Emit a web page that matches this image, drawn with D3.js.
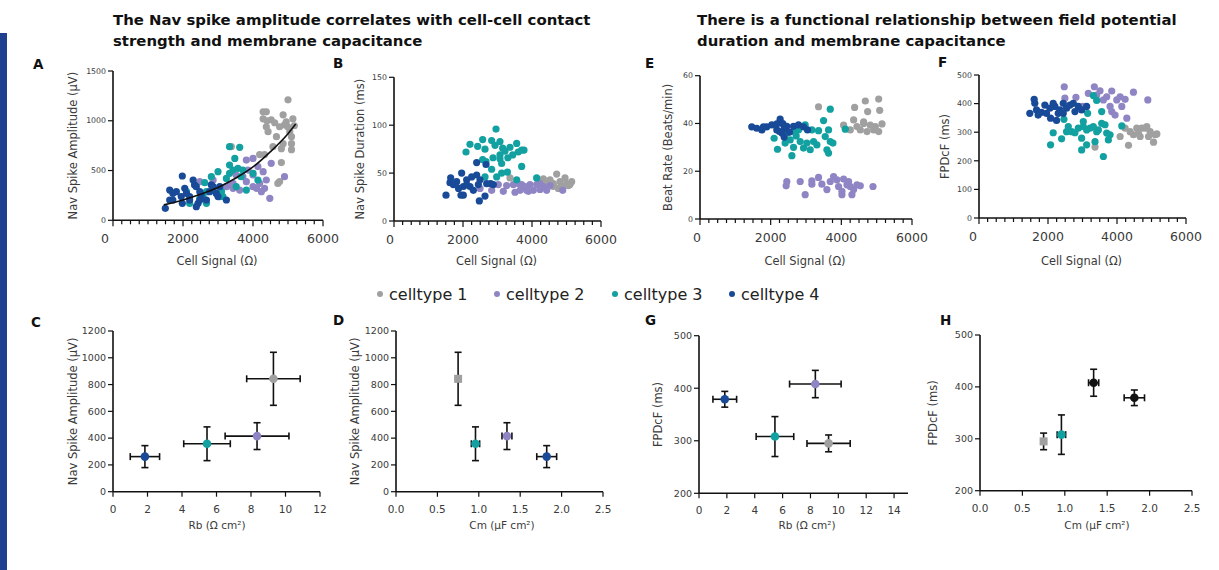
<!DOCTYPE html>
<html>
<head>
<meta charset="utf-8">
<script src="https://cdn.jsdelivr.net/npm/d3@7"></script>
<style>
  body { margin: 0; background: #fff; }
  svg text { font-family: "DejaVu Sans", sans-serif; fill: #3a3a3a; }
  .title { font-weight: bold; fill: #111; font-size: 14.9px; }
  .plabel { font-weight: bold; fill: #111; font-size: 13.5px; }
</style>
</head>
<body>
<svg id="fig" width="1219" height="570"></svg>
<script>
const cellTypes = ["celltype 1", "celltype 2", "celltype 3", "celltype 4"];
const colors = ["#a0a0a0", "#9085c4", "#13a0a0", "#184a98"];

// A: Nav spike amplitude (µV) vs cell signal (Ω)
const ampCt1 = [[3380,740],[4190,660],[4290,1090],[4380,1090],[4290,1020],[4520,1010],[4860,1060],[5140,1020],[4950,990],[4760,940],[4380,940],[4430,890],[4670,840],[5050,890],[4860,770],[5100,770],[5100,840],[4810,720],[5100,710],[4570,740],[4330,660],[4810,580],[4760,390],[4710,370],[5000,1210],[4900,960],[4990,940],[4620,980],[4400,1000],[5180,950]];
const ampCt2 = [[4000,622],[3810,605],[4140,540],[4520,572],[3860,505],[4290,489],[4000,455],[4380,405],[4190,371],[4000,338],[3810,388],[3710,438],[3430,371],[3240,338],[3050,321],[2860,405],[2480,388],[3620,304],[4240,288],[4330,321],[4900,438],[4480,221],[3430,321],[3000,271],[3520,455],[3330,355],[4100,321]];
const ampCt3 = [[3330,740],[3620,733],[3480,622],[3570,522],[3330,472],[2810,438],[3000,489],[2620,378],[2100,288],[2190,171],[2670,171],[3050,238],[3100,288],[2950,271],[3140,238],[3520,338],[3660,438],[3810,304],[4140,405],[3430,505],[3330,555],[2570,238],[2670,288],[2480,221],[3240,421],[3710,505],[2860,304],[4000,472]];
const ampCt4 = [[1495,120],[1620,204],[1620,304],[1710,271],[1810,288],[1950,238],[1980,445],[2100,271],[1980,171],[2190,238],[2050,321],[2330,355],[2290,405],[2380,338],[2480,288],[2430,171],[2380,137],[2670,204],[2810,355],[2950,271],[2860,338],[2760,288],[3050,338],[3000,238],[3240,204],[2480,204],[1710,204],[2190,204],[2520,254]];
const ampFit = [[1450,155],[2000,205],[2500,262],[3000,330],[3500,422],[4000,536],[4500,690],[5000,870],[5220,967]];

// B: Nav spike duration (ms) vs cell signal (Ω)
const durCt1 = [[3362,45],[4329,44],[4715,49],[4522,43],[4618,39],[4812,41],[5005,39],[5150,41],[4908,36],[4763,34],[5054,37],[4425,39],[4618,36],[4232,42],[4957,45],[5100,38]];
const durCt2 = [[2493,34],[2831,32],[3024,38],[3169,31],[3265,37],[3459,38],[3652,32],[3797,36],[3942,38],[4039,32],[4135,38],[4232,33],[4329,36],[4522,37],[4232,39],[3845,32],[4889,32],[3604,39],[3894,31],[4425,32],[3700,38],[3507,30]];
const durCt3 = [[2957,96],[2203,80],[2570,85],[2830,84],[3072,83],[2087,72],[2425,78],[2638,75],[3150,76],[3362,77],[3556,81],[3700,74],[3768,74],[3600,72],[3440,69],[3300,66],[3072,69],[2870,66],[3072,65],[3120,60],[2667,62],[2570,64],[3700,57],[2830,54],[3120,50],[3285,51],[3556,43],[2976,46],[2638,46],[4135,45],[2928,79],[3217,73]];
const durCt4 = [[2396,61],[2667,59],[1507,27],[1643,45],[1623,40],[1816,41],[1961,50],[2106,43],[2251,46],[2396,48],[2493,43],[2010,36],[2203,36],[2300,32],[2445,38],[2686,39],[2879,38],[2010,27],[1942,27],[2473,21],[2638,26],[1720,38],[2106,38],[2802,39],[1871,34]];

// E: beat rate (beats/min) vs cell signal (Ω)
const rateCt1 = [[3355,47],[4376,46.7],[4679,49.4],[5057,50.2],[4745,45],[5085,45.5],[4064,39.3],[4348,41.5],[4442,38.7],[4631,40],[4820,39.3],[4962,38.7],[5151,39.8],[4726,36.6],[4915,37.3],[4537,37.3],[4253,37.3],[5057,36.6],[4631,40.7]];
const rateCt2 = [[2457,15.7],[2438,13.9],[2836,15.7],[3166,16],[3166,14.6],[2977,10.2],[3355,17.4],[3450,14.6],[3592,12.3],[3686,15.7],[3781,17.8],[3875,16.4],[3922,13.6],[4017,11.6],[4064,16.7],[4206,15.7],[4253,13.6],[4300,10.2],[4348,12.3],[4442,14.3],[4537,13.9],[4896,13.6],[4017,10.2],[4159,14.3]];
const rateCt3 = [[3686,46],[2098,33.8],[2193,29.2],[2410,31.8],[2552,33.1],[2600,26.5],[2647,30],[2836,32.4],[2930,29.7],[3025,31.8],[3119,29],[3214,32.4],[3308,31],[3355,37],[3497,41.2],[3544,34.5],[3638,37.3],[3686,32.4],[3762,31.8],[3592,29],[3638,27.6],[2788,37.3],[2647,36.6],[2977,39.4],[3166,37.3],[2457,35.9],[2722,34.8],[4112,37.6]];
const rateCt4 = [[1465,38.6],[1607,38],[1749,37.3],[1890,38.6],[2032,39.4],[2174,39.8],[2268,41.8],[2344,39.9],[2382,37.9],[2250,36.6],[2382,34.3],[2457,38.8],[2533,36.4],[2647,38.8],[2788,39.4],[2930,38.6],[3043,37.3],[2174,37.3],[1796,38.6],[2325,35.9]];

// F: FPDcF (ms) vs cell signal (Ω)
const fpdCt1 = [[3363,248],[4090,285],[4333,254],[4380,302],[4574,314],[4671,285],[4816,314],[4961,302],[5107,291],[5059,265],[4477,291],[4719,314],[4913,285],[5155,294],[4236,314],[4622,296],[4864,320]];
const fpdCt2 = [[2471,459],[2490,419],[2810,422],[3004,390],[3168,436],[3343,459],[3508,445],[3702,424],[3847,444],[3993,413],[4090,424],[4236,415],[4477,440],[4893,413],[3847,372],[3944,360],[3799,390],[4285,349],[4139,390],[3605,413],[3411,430]];
const fpdCt3 = [[3314,428],[3411,411],[3149,366],[2462,345],[2588,320],[2539,302],[2151,298],[2074,256],[2394,277],[2685,302],[2878,314],[3023,337],[3023,320],[3120,308],[3217,314],[3314,320],[3459,308],[3556,331],[3556,372],[3653,326],[3702,297],[3799,291],[3750,273],[3363,267],[2975,279],[3120,256],[2975,238],[3605,215],[4139,322],[2781,298],[3411,302]];
const fpdCt4 = [[1473,366],[1599,415],[1618,401],[1667,378],[1812,369],[1909,395],[2054,384],[2074,349],[2200,390],[2248,341],[2296,366],[2442,401],[2539,384],[2636,395],[2781,372],[2878,390],[2975,378],[3120,390],[2345,378],[1957,366],[2733,401],[2151,401],[1715,360],[2442,366]];

// C, D, G, H: group means with errors (order: celltype 1..4)
const rbMean = [9.3, 8.35, 5.45, 1.85];
const rbErr = [1.55, 1.85, 1.35, 0.85];
const cmMean = [0.75, 1.34, 0.96, 1.82];
const cmErr = [0.02, 0.06, 0.05, 0.12];
const ampMean = [843, 415, 358, 262];
const ampErr = [198, 100, 126, 82];
const fpdMean = [295, 408, 308, 379];
const fpdErr = [16, 26, 38, 15];

const sigTicks = [0, 2000, 4000, 6000];

const svg = d3.select("#fig");

// side bar
svg.append("rect").attr("x", 0).attr("y", 33).attr("width", 7).attr("height", 537).attr("fill", "#1f3f8f");

// titles
function title(x, lines) {
  const t = svg.append("text").attr("class", "title").attr("x", x).attr("y", 25);
  lines.forEach((l, i) => t.append("tspan").attr("x", x).attr("y", 25 + i * 21).text(l));
}
title(113, ["The Nav spike amplitude correlates with cell-cell contact", "strength and membrane capacitance"]);
title(697, ["There is a functional relationship between field potential", "duration and membrane capacitance"]);

function panelLabel(x, y, s) {
  svg.append("text").attr("class", "plabel").attr("x", x).attr("y", y).text(s);
}

function yTitle(cx, cy, s) {
  svg.append("text").attr("transform", `translate(${cx},${cy}) rotate(-90)`)
    .attr("text-anchor", "middle").attr("dy", "0.35em").style("font-size", "11.5px").text(s);
}

function scatterPanel(o) {
  const x = d3.scaleLinear().domain([0, 6000]).range(o.xr);
  const y = d3.scaleLinear().domain([0, o.ymax]).range(o.yr);
  const g = svg.append("g");

  // x axis with minor ticks
  const xa = g.append("g").attr("transform", `translate(0,${o.yr[0]})`);
  xa.append("line").attr("x1", o.xr[0]).attr("x2", o.xr[1]).attr("stroke", "#111").attr("stroke-width", 1.6);
  xa.selectAll(".mn").data(d3.range(0, 6001, 250)).join("line")
    .attr("x1", d => x(d)).attr("x2", d => x(d)).attr("y1", 0)
    .attr("y2", d => d % 2000 === 0 ? 6 : 4).attr("stroke", "#111").attr("stroke-width", 1.2);
  xa.selectAll(".lb").data(sigTicks).join("text")
    .attr("x", d => x(d) + (d === 0 ? o.zeroShift : 0)).attr("y", 23)
    .attr("text-anchor", "middle").style("font-size", "12.5px").text(d => d);

  // y axis
  const ya = g.append("g").attr("transform", `translate(${o.xr[0]},0)`);
  ya.append("line").attr("y1", o.yr[0]).attr("y2", o.yr[1]).attr("stroke", "#111").attr("stroke-width", 1.6);
  ya.selectAll(".tk").data(o.yticks).join("line")
    .attr("x1", -5).attr("x2", 0).attr("y1", d => y(d)).attr("y2", d => y(d)).attr("stroke", "#111").attr("stroke-width", 1.2);
  ya.selectAll(".lb").data(o.yticks).join("text")
    .attr("x", -7).attr("y", d => y(d)).attr("dy", "0.35em")
    .attr("text-anchor", "end").style("font-size", "7.8px").text(d => d);

  o.series.forEach((s, i) => {
    g.append("g").selectAll("circle").data(s).join("circle")
      .attr("cx", d => x(d[0])).attr("cy", d => y(d[1])).attr("r", 3.6)
      .attr("fill", colors[i]);
  });

  if (o.fit) {
    g.append("path").datum(o.fit)
      .attr("d", d3.line().x(d => x(d[0])).y(d => y(d[1])).curve(d3.curveMonotoneX))
      .attr("fill", "none").attr("stroke", "#111").attr("stroke-width", 1.6);
  }

  svg.append("text").attr("x", (o.xr[0] + o.xr[1]) / 2 - 1).attr("y", 265)
    .attr("text-anchor", "middle").style("font-size", "11.4px").text("Cell Signal (Ω)");
  yTitle(o.ytx, (o.yr[0] + o.yr[1]) / 2, o.ytitle);
}

scatterPanel({ xr: [113, 323], yr: [220.3, 71], ymax: 1500, yticks: [0, 500, 1000, 1500], zeroShift: -8,
  series: [ampCt1, ampCt2, ampCt3, ampCt4], fit: ampFit, ytx: 73, ytitle: "Nav Spike Amplitude (µV)" });
scatterPanel({ xr: [394, 601], yr: [221, 77.3], ymax: 150, yticks: [0, 50, 100, 150], zeroShift: -4,
  series: [durCt1, durCt2, durCt3, durCt4], ytx: 360, ytitle: "Nav Spike Duration (ms)" });
scatterPanel({ xr: [700, 912], yr: [219, 75.7], ymax: 60, yticks: [0, 20, 40, 60], zeroShift: -3,
  series: [rateCt1, rateCt2, rateCt3, rateCt4], ytx: 668, ytitle: "Beat Rate (Beats/min)" });
scatterPanel({ xr: [979, 1186], yr: [218, 75], ymax: 500, yticks: [0, 100, 200, 300, 400, 500], zeroShift: -6,
  series: [fpdCt1, fpdCt2, fpdCt3, fpdCt4], ytx: 945, ytitle: "FPDcF (ms)" });

panelLabel(33, 69, "A");
panelLabel(333, 68, "B");
panelLabel(645, 68, "E");
panelLabel(938, 67, "F");

// legend
const legX = [380, 497, 615, 732];
cellTypes.forEach((c, i) => {
  svg.append("circle").attr("cx", legX[i]).attr("cy", 294).attr("r", 3).attr("fill", colors[i]);
  svg.append("text").attr("x", legX[i] + 9).attr("y", 300).style("font-size", "16px").style("fill", "#222").text(c);
});

function errorPanel(o) {
  const x = d3.scaleLinear().domain(o.xdom).range(o.xr);
  const y = d3.scaleLinear().domain(o.ydom).range(o.yr);
  const g = svg.append("g");

  const xa = g.append("g").attr("transform", `translate(0,${o.yr[0]})`);
  xa.append("line").attr("x1", o.xr[0]).attr("x2", o.xr[1]).attr("stroke", "#111").attr("stroke-width", 1.6);
  xa.selectAll(".tk").data(o.xticks).join("line")
    .attr("x1", d => x(d)).attr("x2", d => x(d)).attr("y1", 0).attr("y2", 5).attr("stroke", "#111").attr("stroke-width", 1.2);
  xa.selectAll(".lb").data(o.xticks).join("text")
    .attr("x", d => x(d)).attr("y", 21).attr("text-anchor", "middle").style("font-size", "10.5px")
    .text(o.xfmt);

  const ya = g.append("g").attr("transform", `translate(${o.xr[0]},0)`);
  ya.append("line").attr("y1", o.yr[0]).attr("y2", o.yr[1]).attr("stroke", "#111").attr("stroke-width", 1.6);
  ya.selectAll(".tk").data(o.yticks).join("line")
    .attr("x1", -5).attr("x2", 0).attr("y1", d => y(d)).attr("y2", d => y(d)).attr("stroke", "#111").attr("stroke-width", 1.2);
  ya.selectAll(".lb").data(o.yticks).join("text")
    .attr("x", -7).attr("y", d => y(d)).attr("dy", "0.35em")
    .attr("text-anchor", "end").style("font-size", "9.5px").text(d => d);

  const cap = 3.5;
  o.xm.forEach((xm, i) => {
    const cx = x(xm), cy = y(o.ym[i]);
    const x0 = x(xm - o.xe[i]), x1 = x(xm + o.xe[i]);
    const y0 = y(o.ym[i] - o.ye[i]), y1 = y(o.ym[i] + o.ye[i]);
    const eg = g.append("g").attr("stroke", "#111").attr("stroke-width", 1.6);
    eg.append("line").attr("x1", x0).attr("x2", x1).attr("y1", cy).attr("y2", cy);
    eg.append("line").attr("x1", x0).attr("x2", x0).attr("y1", cy - cap).attr("y2", cy + cap);
    eg.append("line").attr("x1", x1).attr("x2", x1).attr("y1", cy - cap).attr("y2", cy + cap);
    eg.append("line").attr("x1", cx).attr("x2", cx).attr("y1", y0).attr("y2", y1);
    eg.append("line").attr("x1", cx - cap).attr("x2", cx + cap).attr("y1", y0).attr("y2", y0);
    eg.append("line").attr("x1", cx - cap).attr("x2", cx + cap).attr("y1", y1).attr("y2", y1);
    const fill = o.fills ? o.fills[i] : colors[i];
    if (o.square && i === 0) {
      g.append("rect").attr("x", cx - 4).attr("y", cy - 4).attr("width", 8).attr("height", 8).attr("fill", fill);
    } else {
      g.append("circle").attr("cx", cx).attr("cy", cy).attr("r", 4.3).attr("fill", fill);
    }
  });

  svg.append("text").attr("x", o.xtx).attr("y", 529).attr("text-anchor", "middle")
    .style("font-size", "10.5px").text(o.xtitle);
  yTitle(o.ytx, (o.yr[0] + o.yr[1]) / 2, o.ytitle);
}

const fmt1 = d => d.toFixed(1);
const fmt0 = d => d;

errorPanel({ xr: [113, 320], yr: [491.7, 331], xdom: [0, 12], ydom: [0, 1200],
  xticks: d3.range(0, 13, 2), yticks: d3.range(0, 1201, 200), xfmt: fmt0,
  xm: rbMean, xe: rbErr, ym: ampMean, ye: ampErr,
  xtx: 217, xtitle: "Rb (Ω cm²)", ytx: 73, ytitle: "Nav Spike Amplitude (µV)" });
errorPanel({ xr: [396, 603], yr: [491.7, 331], xdom: [0, 2.5], ydom: [0, 1200],
  xticks: d3.range(0, 2.51, 0.5), yticks: d3.range(0, 1201, 200), xfmt: fmt1, square: true,
  xm: cmMean, xe: cmErr, ym: ampMean, ye: ampErr,
  xtx: 502, xtitle: "Cm (µF cm²)", ytx: 355, ytitle: "Nav Spike Amplitude (µV)" });
errorPanel({ xr: [699, 908], yr: [493.3, 335.7], xdom: [0, 15], ydom: [200, 500],
  xticks: d3.range(0, 15, 2), yticks: [200, 300, 400, 500], xfmt: fmt0,
  xm: rbMean, xe: rbErr, ym: fpdMean, ye: fpdErr,
  xtx: 807, xtitle: "Rb (Ω cm²)", ytx: 658, ytitle: "FPDcF (ms)" });
errorPanel({ xr: [980, 1192], yr: [490.7, 335], xdom: [0, 2.5], ydom: [200, 500],
  xticks: d3.range(0, 2.51, 0.5), yticks: [200, 300, 400, 500], xfmt: fmt1, square: true,
  fills: [colors[0], "#111", colors[2], "#111"],
  xm: cmMean, xe: cmErr, ym: fpdMean, ye: fpdErr,
  xtx: 1097, xtitle: "Cm (µF cm²)", ytx: 933, ytitle: "FPDcF (ms)" });

panelLabel(31, 327, "C");
panelLabel(333, 325, "D");
panelLabel(645, 325, "G");
panelLabel(940, 325, "H");
</script>
</body>
</html>
